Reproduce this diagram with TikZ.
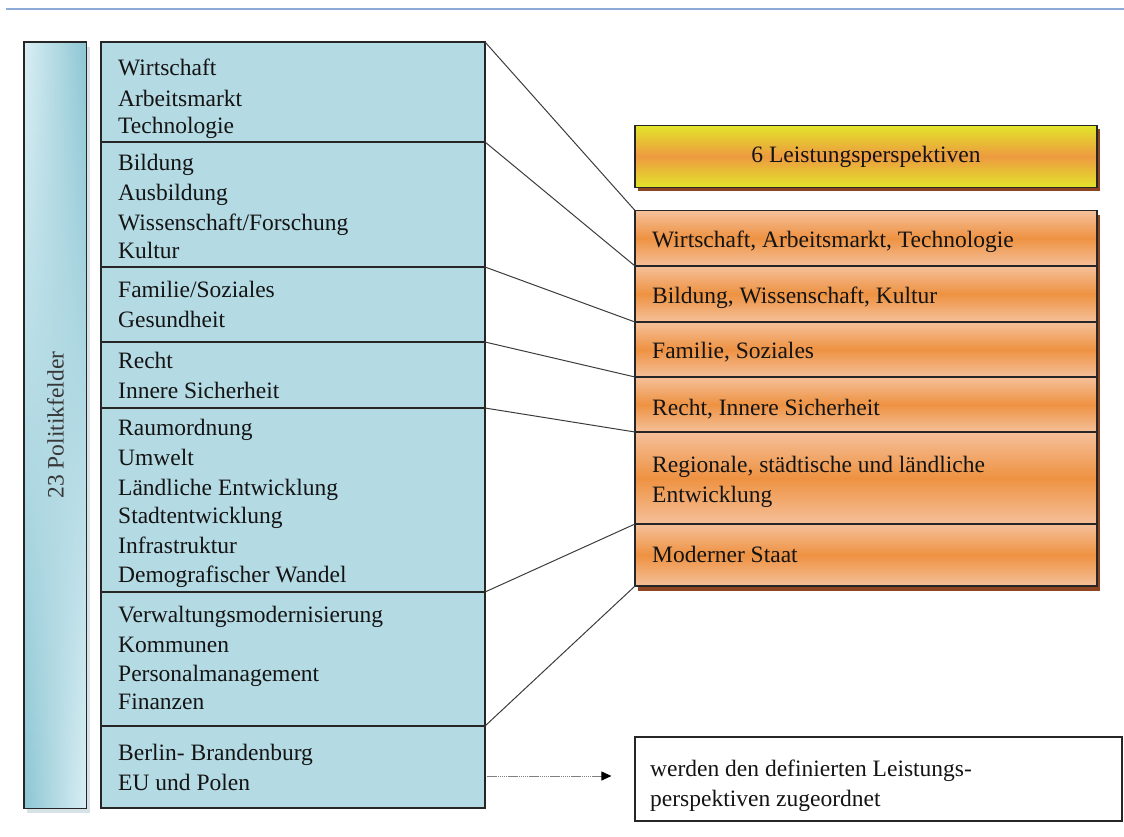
\documentclass[tikz,border=0pt]{standalone}
\usepackage{fontspec}
\setmainfont{Liberation Serif}
\usetikzlibrary{arrows.meta}

\definecolor{rule}{HTML}{8EAAD8}
\definecolor{frame}{HTML}{262626}
\definecolor{link}{HTML}{3C3C3C}
\definecolor{ink}{HTML}{141414}
\definecolor{fieldblue}{HTML}{B4DAE4}
\definecolor{barlight}{HTML}{DAEEF4}
\definecolor{bardark}{HTML}{8CC6D3}
\definecolor{barshadow}{HTML}{A3BFC6}
\definecolor{orlight}{HTML}{F5C09A}
\definecolor{ordark}{HTML}{EE9242}
\definecolor{yel}{HTML}{E2E42A}
\definecolor{brownshadow}{HTML}{8E4522}

\begin{document}
\begin{tikzpicture}[x=1pt,y=-1pt,
  txt/.style={font=\fontsize{23.5}{29.3}\selectfont, text=ink, inner sep=0pt},
  pf/.style={txt, anchor=base west},
  fieldbox/.style={draw=frame, line width=1.3pt, fill=fieldblue, minimum width=384pt,
                   inner sep=0pt, outer sep=0pt},
  perspbox/.style={draw=frame, line width=1.3pt, top color=orlight, bottom color=orlight,
                   middle color=ordark, minimum width=462pt, inner sep=0pt, outer sep=0pt},
  conn/.style={draw=link, line width=1pt}]

\useasboundingbox (0,0) rectangle (1124,836);

% header rule
\draw[rule, line width=2pt] (6,8.5) -- (1124,8.5);

% vertical bar "23 Politikfelder": soft shadow, then a gradient whose
% direction turns over from top (light left) to bottom (light right)
\fill[barshadow, opacity=0.45] (27,47) rectangle (90,813);
\foreach \i in {0,...,99}{
  \pgfmathsetmacro\p{100*\i/99}
  \fill[left color=bardark!\p!barlight, right color=barlight!\p!bardark]
    (24,{42+7.663*\i}) rectangle (86.7,{42+7.663*(\i+1)+0.4});
}
\node[draw=frame, line width=1.3pt, minimum width=62.7pt, minimum height=766.3pt,
      inner sep=0pt] (bar) at (55.35,425.15) {};
\node[txt, rotate=90, text=ink!85] (barlabel) at (bar.center) {23 Politikfelder};

% policy field groups
\node[fieldbox, minimum height=100pt] (m1) at (293,92) {};
\node[fieldbox, minimum height=125pt] (m2) at (293,204.5) {};
\node[fieldbox, minimum height=75pt]  (m3) at (293,304.5) {};
\node[fieldbox, minimum height=66pt]  (m4) at (293,375) {};
\node[fieldbox, minimum height=184pt] (m5) at (293,500) {};
\node[fieldbox, minimum height=134pt] (m6) at (293,659) {};
\node[fieldbox, minimum height=82pt]  (m7) at (293,767) {};

\foreach \txt/\yy [count=\k] in {Wirtschaft/75, Arbeitsmarkt/106, Technologie/133,
    Bildung/170, Ausbildung/200, {Wissenschaft/Forschung}/230, Kultur/258,
    {Familie/Soziales}/297, Gesundheit/327,
    Recht/368, Innere Sicherheit/398,
    Raumordnung/435, Umwelt/465, Ländliche Entwicklung/495, Stadtentwicklung/523,
    Infrastruktur/553, Demografischer Wandel/582,
    Verwaltungsmodernisierung/622, Kommunen/652, Personalmanagement/681, Finanzen/709,
    Berlin- Brandenburg/760, EU und Polen/790}
  \node[pf] (pf\k) at (118,\yy) {\txt};

% performance perspectives: header
\fill[brownshadow] (638,129) rectangle (1100,191);
\node[draw=frame, line width=1.3pt, top color=yel, bottom color=yel, middle color=ordark!90!yel,
      minimum width=462pt, minimum height=61.6pt, inner sep=0pt, txt] (head) at (866,156.5)
      {6 Leistungsperspektiven};

% performance perspectives: rows
\fill[brownshadow] (638,214.5) rectangle (1100,591);
\node[perspbox, minimum height=55.5pt] (o1) at (866,238.25) {};
\node[perspbox, minimum height=56pt]   (o2) at (866,294) {};
\node[perspbox, minimum height=55pt]   (o3) at (866,349.5) {};
\node[perspbox, minimum height=55pt]   (o4) at (866,404.5) {};
\node[perspbox, minimum height=92pt]   (o5) at (866,478) {};
\node[perspbox, minimum height=62pt]   (o6) at (866,555) {};

\node[pf] (p1)  at (652,247) {Wirtschaft, Arbeitsmarkt,\ Technologie};
\node[pf] (p2)  at (652,303) {Bildung, Wissenschaft, Kultur};
\node[pf] (p3)  at (652,358) {Familie,\ Soziales};
\node[pf] (p4)  at (652,415) {Recht, Innere Sicherheit};
\node[pf] (p5a) at (652,472) {Regionale, städtische und ländliche};
\node[pf] (p5b) at (652,502) {Entwicklung};
\node[pf] (p6)  at (652,562) {Moderner Staat};

% connectors between group boundaries
\draw[conn] (m1.north east) -- (o1.north west);
\draw[conn] (m1.south east) -- (o1.south west);
\draw[conn] (m2.south east) -- (o2.south west);
\draw[conn] (m3.south east) -- (o3.south west);
\draw[conn] (m4.south east) -- (o4.south west);
\draw[conn] (m5.south east) -- (o5.south west);
\draw[conn] (m6.south east) -- (o6.south west);

% note box and arrow
\node[draw=frame, line width=1.2pt, fill=white, minimum width=487pt, minimum height=84pt,
      inner sep=0pt] (note) at (878.5,779) {};
\node[pf] (n1) at (650,776) {werden den definierten Leistungs-};
\node[pf] (n2) at (650,806) {perspektiven zugeordnet};

\coordinate (arrowstart) at ([xshift=2pt,yshift=-9pt]m7.east);
\coordinate (arrowend) at ([xshift=-23pt]note.west);
\draw[gray, line width=1pt, dash pattern=on 1.5pt off 0.6pt,
      -{Triangle[length=10pt,width=9pt,color=black]}]
  (arrowstart) -- (arrowstart -| arrowend);
\end{tikzpicture}
\end{document}
